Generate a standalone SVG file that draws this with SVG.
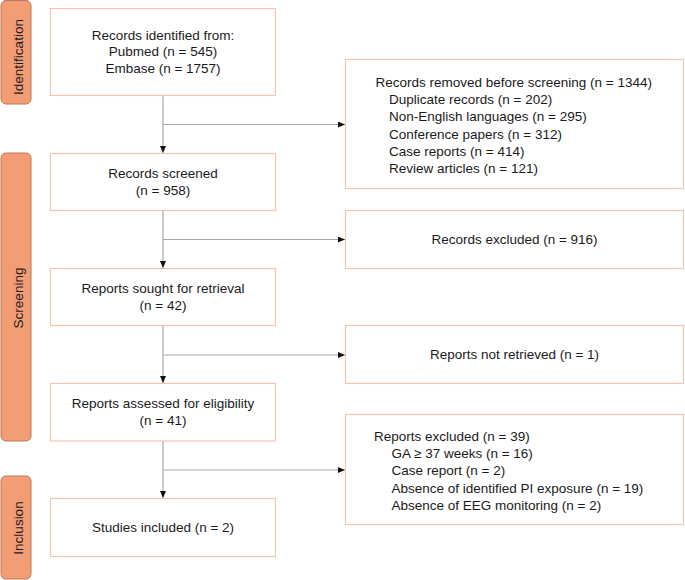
<svg xmlns="http://www.w3.org/2000/svg" width="685" height="580" viewBox="0 0 685 580">
<defs>
<marker id="arr" markerWidth="8" markerHeight="8" refX="7" refY="3" orient="auto" markerUnits="userSpaceOnUse">
<path d="M0,0 L7,3 L0,6 Z" fill="#111"/>
</marker>
<style>
.box{fill:#fff;stroke:#f7c3b1;stroke-width:1.2}
.side{fill:#f29d74;stroke:#b9785a;stroke-width:1}
.t{font-family:"Liberation Sans",Arial,sans-serif;font-size:13.5px;fill:#1a1a1a}
.c{text-anchor:middle}
.ln{fill:none;stroke:#a8a8a8;stroke-width:1.2}
</style>
</defs>
<rect width="685" height="580" fill="#fff"/>
<g id="side-identification">
<rect class="side" x="1" y="0.5" width="30" height="103.5" rx="5"/>
<text class="t c" transform="translate(22.5,57) rotate(-90)">Identification</text>
</g>
<g id="side-screening">
<rect class="side" x="1" y="153" width="30" height="288" rx="5"/>
<text class="t c" transform="translate(22.5,298) rotate(-90)">Screening</text>
</g>
<g id="side-inclusion">
<rect class="side" x="1" y="476" width="30" height="103" rx="5"/>
<text class="t c" transform="translate(22.5,528) rotate(-90)">Inclusion</text>
</g>
<g id="connectors">
<path class="ln" d="M163,95 V153" marker-end="url(#arr)"/>
<path class="ln" d="M163,124.5 H345" marker-end="url(#arr)"/>
<path class="ln" d="M163,210 V268" marker-end="url(#arr)"/>
<path class="ln" d="M163,239.5 H345" marker-end="url(#arr)"/>
<path class="ln" d="M163,325 V383" marker-end="url(#arr)"/>
<path class="ln" d="M163,355 H345" marker-end="url(#arr)"/>
<path class="ln" d="M163,441 V498" marker-end="url(#arr)"/>
<path class="ln" d="M163,470 H345" marker-end="url(#arr)"/>
</g>
<g id="identified">
<rect class="box" x="50.5" y="8.5" width="225" height="87"/>
<text class="t c" x="163" y="39.5">Records identified from:</text>
<text class="t c" x="163" y="56">Pubmed (n = 545)</text>
<text class="t c" x="163" y="72.5">Embase (n = 1757)</text>
</g>
<g id="removed">
<rect class="box" x="345.5" y="59.5" width="338" height="129"/>
<text class="t" x="375.5" y="86.5">Records removed before screening (n = 1344)</text>
<text class="t" x="389" y="104">Duplicate records (n = 202)</text>
<text class="t" x="389" y="121">Non-English languages (n = 295)</text>
<text class="t" x="389" y="138.5">Conference papers (n = 312)</text>
<text class="t" x="389" y="155.5">Case reports (n = 414)</text>
<text class="t" x="389" y="172.5">Review articles (n = 121)</text>
</g>
<g id="screened">
<rect class="box" x="50.5" y="153.5" width="225" height="57"/>
<text class="t c" x="163" y="177.5">Records screened</text>
<text class="t c" x="163" y="194.5">(n = 958)</text>
</g>
<g id="excluded">
<rect class="box" x="345.5" y="210.5" width="338" height="58"/>
<text class="t c" x="514.5" y="244">Records excluded (n = 916)</text>
</g>
<g id="sought">
<rect class="box" x="50.5" y="268.5" width="225" height="57"/>
<text class="t c" x="163" y="292.5">Reports sought for retrieval</text>
<text class="t c" x="163" y="309.5">(n = 42)</text>
</g>
<g id="not-retrieved">
<rect class="box" x="345.5" y="325.5" width="338" height="58"/>
<text class="t c" x="514.5" y="359">Reports not retrieved (n = 1)</text>
</g>
<g id="assessed">
<rect class="box" x="50.5" y="383.5" width="225" height="57.5"/>
<text class="t c" x="163" y="407.5">Reports assessed for eligibility</text>
<text class="t c" x="163" y="424.5">(n = 41)</text>
</g>
<g id="reports-excluded">
<rect class="box" x="345.5" y="414.5" width="338" height="110"/>
<text class="t" x="374" y="440.5">Reports excluded (n = 39)</text>
<text class="t" x="391.5" y="457.5">GA ≥ 37 weeks (n = 16)</text>
<text class="t" x="391.5" y="475">Case report (n = 2)</text>
<text class="t" x="391.5" y="492.5">Absence of identified PI exposure (n = 19)</text>
<text class="t" x="391.5" y="510">Absence of EEG monitoring (n = 2)</text>
</g>
<g id="included">
<rect class="box" x="50.5" y="498.5" width="225" height="58"/>
<text class="t c" x="163" y="532">Studies included (n = 2)</text>
</g>
</svg>
